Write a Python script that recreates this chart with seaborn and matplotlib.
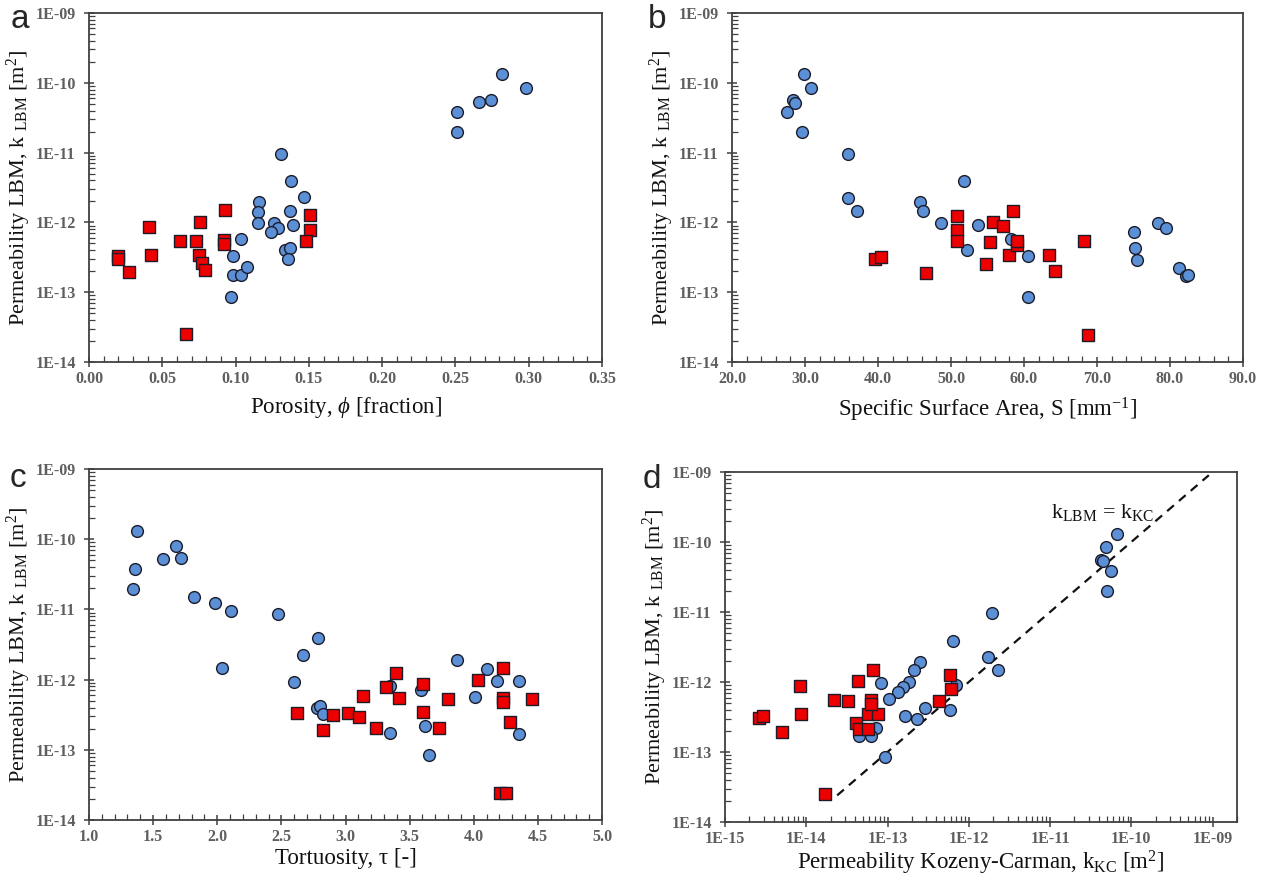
import numpy as np
import pandas as pd
import matplotlib
matplotlib.use("Agg")
import matplotlib.pyplot as plt
import matplotlib.ticker as mticker
import seaborn as sns

# ---------------- data ----------------
a_blue_phi = [0.251, 0.251, 0.266, 0.274, 0.282, 0.298, 0.131, 0.138, 0.147, 0.116, 0.115, 0.137, 0.115,
              0.126, 0.129, 0.139, 0.124, 0.104, 0.134, 0.137, 0.136, 0.098, 0.098, 0.104, 0.108, 0.097]
a_blue_k = [3.8e-11, 2.0e-11, 5.3e-11, 5.6e-11, 1.34e-10, 8.4e-11, 9.7e-12, 3.9e-12, 2.3e-12, 1.97e-12,
            1.43e-12, 1.48e-12, 9.8e-13, 9.8e-13, 8.3e-13, 9.2e-13, 7.2e-13, 5.8e-13, 4.0e-13, 4.3e-13,
            3.0e-13, 3.3e-13, 1.78e-13, 1.78e-13, 2.3e-13, 8.6e-14]
a_red_phi = [0.020, 0.020, 0.027, 0.041, 0.042, 0.062, 0.073, 0.076, 0.075, 0.077, 0.079, 0.066, 0.093,
             0.092, 0.092, 0.151, 0.151, 0.148]
a_red_k = [3.3e-13, 3.0e-13, 1.96e-13, 8.7e-13, 3.4e-13, 5.5e-13, 5.5e-13, 1.03e-12, 3.4e-13, 2.6e-13,
           2.07e-13, 2.5e-14, 1.5e-12, 5.6e-13, 4.9e-13, 1.26e-12, 7.9e-13, 5.4e-13]

b_blue_S = [27.5, 28.3, 28.6, 29.6, 29.9, 30.8, 35.9, 35.9, 37.1, 45.7, 46.2, 48.6, 51.8, 52.2, 53.7,
            58.2, 60.5, 60.6, 75.0, 75.2, 75.5, 78.3, 79.5, 81.2, 82.2, 82.5]
b_blue_k = [3.8e-11, 5.6e-11, 5.2e-11, 2.0e-11, 1.32e-10, 8.4e-11, 9.6e-12, 2.2e-12, 1.45e-12, 1.95e-12,
            1.44e-12, 9.7e-13, 3.9e-12, 4.0e-13, 9.1e-13, 5.7e-13, 3.3e-13, 8.4e-14, 7.2e-13, 4.3e-13,
            2.9e-13, 9.7e-13, 8.2e-13, 2.25e-13, 1.69e-13, 1.75e-13]
b_red_S = [39.6, 40.4, 46.6, 50.8, 50.8, 50.8, 54.8, 55.3, 55.8, 57.1, 58.0, 58.5, 59.0, 59.1, 63.4,
           64.2, 68.2, 68.7]
b_red_k = [3.0e-13, 3.16e-13, 1.9e-13, 1.22e-12, 7.9e-13, 5.4e-13, 2.5e-13, 5.3e-13, 1.02e-12, 8.8e-13,
           3.45e-13, 1.47e-12, 4.75e-13, 5.4e-13, 3.4e-13, 2.04e-13, 5.5e-13, 2.46e-14]

c_blue_tau = [1.378, 1.356, 1.343, 1.578, 1.679, 1.721, 1.819, 1.981, 2.111, 2.038, 2.476, 2.784, 2.670,
              2.600, 2.775, 2.800, 2.822, 3.346, 3.346, 3.587, 3.616, 3.648, 3.870, 4.010, 4.105, 4.184,
              4.352, 4.352]
c_blue_k = [1.32e-10, 3.8e-11, 1.97e-11, 5.3e-11, 8.1e-11, 5.4e-11, 1.5e-11, 1.24e-11, 9.4e-12, 1.47e-12,
            8.7e-12, 3.9e-12, 2.23e-12, 9.2e-13, 3.9e-13, 4.2e-13, 3.2e-13, 8.2e-13, 1.74e-13, 7.0e-13,
            2.17e-13, 8.3e-14, 1.91e-12, 5.7e-13, 1.41e-12, 9.5e-13, 9.5e-13, 1.7e-13]
c_red_tau = [2.622, 2.825, 2.902, 3.022, 3.102, 3.133, 3.241, 3.314, 3.390, 3.416, 3.606, 3.606, 3.727,
             3.803, 4.035, 4.229, 4.225, 4.225, 4.279, 4.206, 4.254, 4.457]
c_red_k = [3.36e-13, 1.92e-13, 3.18e-13, 3.36e-13, 2.97e-13, 5.9e-13, 2.05e-13, 7.8e-13, 1.23e-12, 5.4e-13,
           8.6e-13, 3.4e-13, 2.03e-13, 5.3e-13, 1.0e-12, 1.44e-12, 5.4e-13, 4.8e-13, 2.5e-13, 2.4e-14,
           2.4e-14, 5.3e-13]

d_blue_kc = [6.7e-11, 4.9e-11, 4.2e-11, 4.5e-11, 5.6e-11, 5.0e-11, 1.95e-12, 6.4e-13, 1.74e-12, 2.29e-12,
             2.52e-13, 2.1e-13, 1.85e-13, 1.54e-13, 1.34e-13, 8.4e-14, 1.03e-13, 7.0e-13, 2.92e-13,
             1.65e-13, 2.29e-13, 5.8e-13, 7.3e-14, 4.4e-14, 6.2e-14, 9.2e-14]
d_blue_k = [1.32e-10, 8.4e-11, 5.6e-11, 5.3e-11, 3.9e-11, 2.0e-11, 9.7e-12, 3.9e-12, 2.25e-12, 1.49e-12,
            1.93e-12, 1.46e-12, 9.9e-13, 8.4e-13, 7.2e-13, 9.7e-13, 5.7e-13, 9.2e-13, 4.3e-13, 3.25e-13,
            2.94e-13, 4.0e-13, 2.21e-13, 1.72e-13, 1.72e-13, 8.6e-14]
d_red_kc = [2.64e-15, 2.93e-15, 5.1e-15, 8.3e-15, 8.5e-15, 2.22e-14, 3.24e-14, 4.3e-14, 6.6e-14, 4.1e-14,
            4.4e-14, 5.7e-14, 5.8e-14, 7.7e-14, 6.3e-14, 6.3e-14, 4.3e-13, 5.8e-13, 6.1e-13, 1.71e-14]
d_red_k = [3.04e-13, 3.28e-13, 1.92e-13, 8.9e-13, 3.5e-13, 5.55e-13, 5.4e-13, 1.02e-12, 1.47e-12, 2.6e-13,
           2.12e-13, 2.12e-13, 3.47e-13, 3.47e-13, 5.55e-13, 4.86e-13, 5.4e-13, 1.26e-12, 7.96e-13, 2.48e-14]

d_line_kc = [2.4e-14, 9.0e-10]
d_line_k = [2.4e-14, 9.0e-10]

y_ticks = [1e-14, 1e-13, 1e-12, 1e-11, 1e-10, 1e-09]
y_tick_labels = ['1E-14', '1E-13', '1E-12', '1E-11', '1E-10', '1E-09']
a_xticks = [0.00, 0.05, 0.10, 0.15, 0.20, 0.25, 0.30, 0.35]
a_xtick_labels = ['0.00', '0.05', '0.10', '0.15', '0.20', '0.25', '0.30', '0.35']
b_xticks = [20, 30, 40, 50, 60, 70, 80, 90]
b_xtick_labels = ['20.0', '30.0', '40.0', '50.0', '60.0', '70.0', '80.0', '90.0']
c_xticks = [1.0, 1.5, 2.0, 2.5, 3.0, 3.5, 4.0, 4.5, 5.0]
c_xtick_labels = ['1.0', '1.5', '2.0', '2.5', '3.0', '3.5', '4.0', '4.5', '5.0']
d_xticks = [1e-15, 1e-14, 1e-13, 1e-12, 1e-11, 1e-10, 1e-09]
d_xtick_labels = ['1E-15', '1E-14', '1E-13', '1E-12', '1E-11', '1E-10', '1E-09']

# ---------------- style ----------------
sns.set_style("ticks")
plt.rcParams['font.family'] = ['Liberation Serif', 'DejaVu Serif']
plt.rcParams['mathtext.fontset'] = 'custom'
plt.rcParams['mathtext.rm'] = 'Liberation Serif'
plt.rcParams['mathtext.it'] = 'Liberation Serif:italic'
plt.rcParams['mathtext.bf'] = 'Liberation Serif:bold'

BLUE = '#5b8fd6'
RED = '#ee0000'
EDGE = '#1c1c2a'
SPINE = '#404040'
TICKLAB = '#5e5e5e'
MS = 72

fig = plt.figure(figsize=(12.65, 8.81), dpi=100)
W, H = 1265, 881

def add_ax(l, r, t, b):
    return fig.add_axes([l / W, 1 - b / H, (r - l) / W, (b - t) / H])

ax_a = add_ax(89, 602, 13, 362)
ax_b = add_ax(732, 1243, 13, 362)
ax_c = add_ax(89, 602, 469, 820)
ax_d = add_ax(725, 1237, 472, 822)

YLABEL = r'Permeability LBM, k $_{\rm LBM}$ [m$^{2}$]'


def scatter(ax, xb, yb, xr, yr):
    sns.scatterplot(x=xb, y=yb, ax=ax, color=BLUE, marker='o', s=MS, edgecolor=EDGE,
                    linewidth=1.0, zorder=3, legend=False)
    sns.scatterplot(x=xr, y=yr, ax=ax, color=RED, marker='s', s=MS, edgecolor=EDGE,
                    linewidth=1.0, zorder=4, legend=False)


def style(ax, xticks, xlabels, xlabel, minor_x, xpad):
    ax.set_yscale('log')
    ax.set_ylim(1e-14, 1e-09)
    ax.set_yticks(y_ticks)
    ax.set_yticklabels(y_tick_labels)
    ax.yaxis.set_minor_locator(mticker.LogLocator(base=10, subs=np.arange(2, 10)))
    ax.yaxis.set_minor_formatter(mticker.NullFormatter())
    ax.set_xticks(xticks)
    ax.set_xticklabels(xlabels)
    if minor_x is not None:
        ax.xaxis.set_minor_locator(minor_x)
    ax.tick_params(axis='both', which='major', direction='inout', length=7, width=1.1,
                   color=SPINE, labelsize=11.5, labelcolor=TICKLAB)
    ax.tick_params(axis='y', which='major', pad=6)
    ax.tick_params(axis='x', which='major', pad=3)
    ax.tick_params(axis='both', which='minor', direction='in', length=4, width=0.9, color=SPINE)
    for lab in ax.get_xticklabels() + ax.get_yticklabels():
        lab.set_fontweight('bold')
    for sp in ax.spines.values():
        sp.set_visible(True)
        sp.set_color(SPINE)
        sp.set_linewidth(1.3)
    ax.set_ylabel(YLABEL, fontsize=16, color='#111111', labelpad=2)
    ax.set_xlabel(xlabel, fontsize=16.5, color='#111111', labelpad=xpad)
    ax.grid(False)


scatter(ax_a, a_blue_phi, a_blue_k, a_red_phi, a_red_k)
ax_a.set_xlim(0, 0.35)
style(ax_a, a_xticks, a_xtick_labels, r'Porosity, $\it{\phi}$ [fraction]', mticker.MultipleLocator(0.01), 6)

scatter(ax_b, b_blue_S, b_blue_k, b_red_S, b_red_k)
ax_b.set_xlim(20, 90)
style(ax_b, b_xticks, b_xtick_labels, r'Specific Surface Area, S [mm$^{-1}$]', mticker.MultipleLocator(2), 6)

scatter(ax_c, c_blue_tau, c_blue_k, c_red_tau, c_red_k)
ax_c.set_xlim(1, 5)
style(ax_c, c_xticks, c_xtick_labels, 'Tortuosity, τ [-]', mticker.MultipleLocator(0.1), 2)

sns.lineplot(x=d_line_kc, y=d_line_k, ax=ax_d, color='#111111', linewidth=1.6, zorder=2)
ax_d.lines[-1].set_linestyle((0, (4, 3)))
scatter(ax_d, d_blue_kc, d_blue_k, d_red_kc, d_red_k)
ax_d.set_xscale('log')
ax_d.set_xlim(1e-15, 2e-09)
style(ax_d, d_xticks, d_xtick_labels, r'Permeability Kozeny-Carman, k$_{\rm KC}$ [m$^{2}$]',
      mticker.LogLocator(base=10, subs=np.arange(2, 10)), 1)
ax_d.xaxis.set_minor_formatter(mticker.NullFormatter())
ax_d.text(1.9e-10, 2.6e-10, r'k$_{\rm LBM}$ = k$_{\rm KC}$', fontsize=16, ha='right', va='center',
          color='#111111')

for lab, (x, y) in zip(['a', 'b', 'c', 'd'], [(20, 20), (657, 20), (18, 478), (652, 480)]):
    fig.text(x / W, 1 - y / H, lab, fontsize=24, family='Liberation Sans', ha='center', va='center')

fig.savefig('out.png', dpi=100, facecolor='white')
